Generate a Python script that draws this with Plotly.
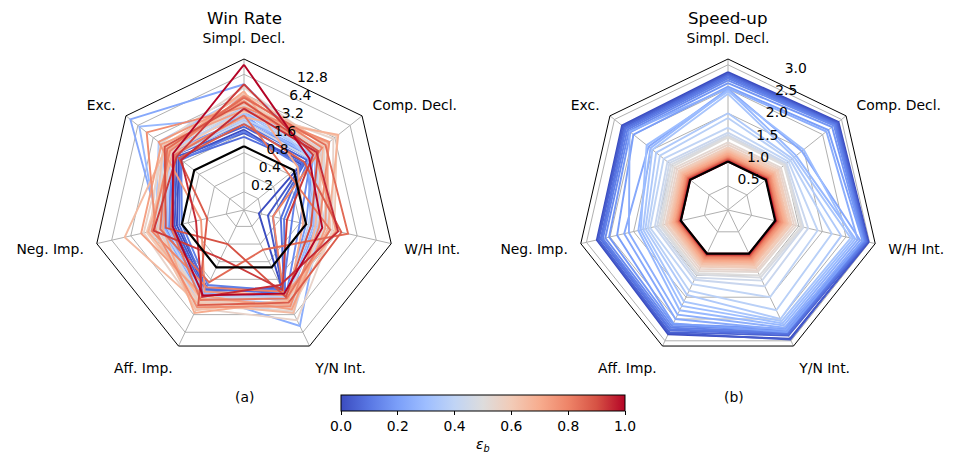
import math
import plotly.graph_objects as go
from plotly.colors import sample_colorscale

categories = ["Simpl. Decl.", "Comp. Decl.", "W/H Int.", "Y/N Int.", "Aff. Imp.", "Neg. Imp.", "Exc."]

eps_b = [0.00, 0.03, 0.05, 0.08, 0.10, 0.12, 0.15, 0.18, 0.20, 0.23,
         0.25, 0.28, 0.30, 0.33, 0.35, 0.38, 0.40, 0.43, 0.45, 0.48,
         0.50, 0.53, 0.55, 0.58, 0.60, 0.63, 0.65, 0.68, 0.70, 0.73,
         0.75, 0.78, 0.80, 0.83, 0.85, 0.88, 0.90, 0.93, 0.95, 1.00]

# Win rate per category (log scale chart)
win_simpl = [1.8, 1.6, 2.0, 1.4, 2.2, 1.7, 2.4, 2.6, 3.0, 9.0,
             3.4, 2.8, 4.0, 3.2, 6.0, 2.6, 3.6, 4.4, 2.4, 5.0,
             3.8, 8.0, 4.2, 5.5, 3.4, 6.4, 4.6, 2.8, 7.0, 3.6,
             5.0, 4.0, 6.0, 3.0, 5.6, 2.2, 4.8, 9.0, 3.8, 18.0]
win_comp = [1.4, 1.6, 1.8, 1.5, 2.0, 1.3, 2.2, 2.4, 1.9, 2.6,
            2.8, 2.2, 3.0, 2.4, 2.0, 3.2, 2.6, 3.4, 2.0, 3.6,
            2.8, 4.0, 6.0, 3.2, 7.0, 4.4, 3.8, 7.5, 1.2, 4.8,
            2.6, 5.0, 3.6, 0.8, 4.2, 1.6, 3.0, 2.4, 2.8, 2.0]
win_wh = [0.18, 0.25, 0.30, 0.40, 0.45, 0.60, 0.80, 1.0, 1.2, 1.4,
          1.6, 1.3, 1.8, 2.0, 1.5, 1.1, 1.7, 2.2, 1.6, 2.4,
          1.9, 2.0, 2.6, 1.8, 2.8, 2.4, 1.4, 2.2, 0.9, 2.0,
          3.0, 1.6, 0.3, 2.4, 4.6, 3.6, 1.2, 0.5, 3.2, 1.8]
win_yn = [2.4, 2.6, 2.2, 2.8, 3.0, 2.5, 3.2, 3.4, 3.0, 4.0,
          10.0, 3.6, 4.4, 3.8, 5.0, 3.2, 6.0, 4.0, 3.4, 4.6,
          3.8, 5.5, 8.0, 4.2, 5.0, 3.6, 6.0, 4.4, 3.8, 5.2,
          3.0, 4.6, 2.6, 3.4, 0.5, 4.0, 3.2, 2.4, 2.0, 2.8]
win_aff = [2.2, 2.4, 2.6, 2.3, 2.8, 2.0, 3.0, 3.2, 3.4, 3.6,
           3.0, 2.8, 3.8, 2.6, 4.0, 3.0, 3.4, 4.2, 3.2, 3.6,
           4.4, 4.6, 5.0, 3.8, 4.0, 5.4, 4.2, 3.4, 6.0, 3.0,
           2.6, 4.8, 2.2, 3.6, 1.8, 4.4, 0.4, 0.7, 3.2, 3.0]
win_neg = [1.2, 1.3, 1.4, 1.1, 1.5, 1.0, 1.6, 1.8, 2.0, 2.2,
           1.9, 2.4, 2.1, 1.7, 2.6, 2.0, 2.3, 2.8, 3.0, 2.2,
           2.6, 3.2, 4.0, 2.4, 3.6, 2.8, 8.0, 3.4, 2.0, 4.4,
           0.5, 2.6, 3.0, 1.5, 2.2, 0.4, 1.8, 2.8, 0.6, 1.4]
win_exc = [2.0, 2.2, 2.4, 1.9, 2.6, 1.8, 2.8, 3.0, 3.4, 18.0,
           4.0, 12.0, 3.6, 3.2, 5.0, 2.6, 3.0, 3.8, 2.4, 4.2,
           3.4, 4.6, 3.8, 3.0, 2.8, 4.0, 3.6, 2.6, 3.2, 4.4,
           5.0, 8.6, 3.0, 2.4, 3.4, 2.0, 3.8, 2.2, 1.8, 2.6]

# Speed-up per category (linear chart)
spd_simpl = [2.85, 2.82, 2.80, 2.78, 2.75, 2.72, 2.68, 2.62, 2.55, 2.50,
             2.52, 2.48, 2.45, 2.40, 2.00, 1.90, 1.70, 1.60, 1.55, 1.52,
             1.50, 1.40, 1.35, 1.30, 1.27, 1.24, 1.21, 1.18, 1.16, 1.13,
             1.11, 1.09, 1.07, 1.06, 1.05, 1.04, 1.03, 1.02, 1.01, 1.00]
spd_comp = [2.92, 2.90, 2.88, 2.86, 2.84, 2.82, 2.80, 2.75, 2.65, 1.95,
            2.60, 1.80, 2.00, 1.75, 1.70, 1.65, 1.60, 1.55, 1.52, 1.50,
            1.48, 1.40, 1.36, 1.32, 1.29, 1.25, 1.22, 1.19, 1.17, 1.14,
            1.12, 1.10, 1.08, 1.06, 1.05, 1.04, 1.03, 1.02, 1.01, 1.01]
spd_wh = [2.98, 2.96, 2.95, 2.93, 2.92, 2.90, 2.88, 2.86, 2.85, 2.80,
          2.75, 2.70, 2.65, 2.60, 2.40, 2.20, 1.90, 1.70, 1.60, 1.58,
          1.55, 1.45, 1.40, 1.35, 1.32, 1.28, 1.25, 1.22, 1.19, 1.16,
          1.14, 1.11, 1.09, 1.07, 1.06, 1.04, 1.03, 1.02, 1.02, 1.01]
spd_yn = [2.95, 2.97, 2.88, 2.85, 2.82, 2.80, 2.76, 2.72, 2.80, 2.75,
          2.70, 2.65, 2.60, 2.55, 2.50, 2.30, 2.00, 1.75, 1.62, 1.55,
          1.50, 1.42, 1.38, 1.33, 1.30, 1.26, 1.23, 1.20, 1.17, 1.14,
          1.12, 1.10, 1.08, 1.06, 1.05, 1.04, 1.03, 1.02, 1.01, 1.00]
spd_aff = [2.85, 2.82, 2.80, 2.76, 2.74, 2.70, 2.66, 2.62, 2.60, 2.50,
           2.40, 2.30, 2.20, 2.10, 1.95, 1.85, 1.70, 1.60, 1.55, 1.48,
           1.45, 1.40, 1.35, 1.30, 1.27, 1.24, 1.21, 1.18, 1.16, 1.13,
           1.11, 1.09, 1.07, 1.05, 1.04, 1.03, 1.02, 1.02, 1.01, 1.00]
spd_neg = [2.78, 2.76, 2.74, 2.70, 2.68, 2.65, 2.60, 2.52, 2.35, 2.20,
           2.10, 1.90, 1.85, 1.80, 1.75, 1.70, 1.65, 1.55, 1.50, 1.45,
           1.42, 1.38, 1.33, 1.30, 1.26, 1.23, 1.20, 1.17, 1.15, 1.12,
           1.10, 1.08, 1.07, 1.05, 1.04, 1.03, 1.02, 1.01, 1.01, 1.00]
spd_exc = [2.80, 2.78, 2.75, 2.72, 2.70, 2.66, 2.62, 2.58, 2.50, 2.10,
           2.60, 2.05, 2.15, 2.00, 1.90, 1.80, 1.70, 1.60, 1.55, 1.50,
           1.45, 1.40, 1.35, 1.30, 1.27, 1.24, 1.21, 1.18, 1.16, 1.13,
           1.11, 1.09, 1.07, 1.06, 1.05, 1.04, 1.03, 1.02, 1.01, 1.00]

baseline = [1.0] * len(categories)

win_ticks = [0.2, 0.4, 0.8, 1.6, 3.2, 6.4, 12.8]
spd_ticks = [0.5, 1.0, 1.5, 2.0, 2.5, 3.0]
cbar_ticks = [0.0, 0.2, 0.4, 0.6, 0.8, 1.0]

coolwarm = [[0.0, "#3b4cc0"], [0.1, "#5977e3"], [0.2, "#7b9ff9"], [0.3, "#9ebeff"],
            [0.4, "#c0d4f5"], [0.5, "#dddcdc"], [0.6, "#f2cbb7"], [0.7, "#f7ac8e"],
            [0.8, "#ee8468"], [0.9, "#d65244"], [1.0, "#b40426"]]

# the page body has an 8px default margin: size the figure to fit the window
# and express layout positions in window pixels minus that offset
OFF = 8
W, H = 955 - OFF, 457 - OFF
FONT = "DejaVu Sans"
GRID = "#b0b0b0"
FS = 13.9
R = 151
LABEL_THETA = 23  # r-label direction (degrees clockwise from top)


def px(x):
    return (x - OFF) / W


def py(y):
    return (H - (y - OFF)) / H


win_cols = [win_simpl, win_comp, win_wh, win_yn, win_aff, win_neg, win_exc]
spd_cols = [spd_simpl, spd_comp, spd_wh, spd_yn, spd_aff, spd_neg, spd_exc]
theta_closed = categories + [categories[0]]

fig = go.Figure()
colors = sample_colorscale(coolwarm, eps_b)

for subplot, cols in (("polar", win_cols), ("polar2", spd_cols)):
    for i, e in enumerate(eps_b):
        row = [c[i] for c in cols]
        fig.add_trace(go.Scatterpolar(
            r=row + [row[0]], theta=theta_closed, mode="lines",
            line=dict(color=colors[i], width=1.9),
            subplot=subplot, showlegend=False, hoverinfo="skip"))
    fig.add_trace(go.Scatterpolar(
        r=baseline + [baseline[0]], theta=theta_closed, mode="lines",
        line=dict(color="black", width=2.2),
        subplot=subplot, showlegend=False, hoverinfo="skip"))

# radial tick labels (overlay polar subplots with a plain numeric angular axis)
fig.add_trace(go.Scatterpolar(
    r=win_ticks, theta=[LABEL_THETA] * len(win_ticks), mode="text",
    text=[str(v) for v in win_ticks], textposition="top right",
    textfont=dict(family=FONT, size=FS, color="black"),
    subplot="polar3", showlegend=False, hoverinfo="skip"))
fig.add_trace(go.Scatterpolar(
    r=spd_ticks, theta=[LABEL_THETA] * len(spd_ticks), mode="text",
    text=[f"{v:.1f}" for v in spd_ticks], textposition="top right",
    textfont=dict(family=FONT, size=FS, color="black"),
    subplot="polar4", showlegend=False, hoverinfo="skip"))

# colorbar carrier
fig.add_trace(go.Scatter(
    x=[None], y=[None], mode="markers", showlegend=False, hoverinfo="skip",
    marker=dict(color=[0.5], cmin=0, cmax=1, colorscale=coolwarm, showscale=True,
                colorbar=dict(orientation="h", x=px(483), xanchor="center",
                              y=py(395), yanchor="top", ypad=0, xpad=0,
                              lenmode="pixels", len=284, thickness=16,
                              outlinecolor="black", outlinewidth=1,
                              tickvals=cbar_ticks, ticktext=[f"{v:.1f}" for v in cbar_ticks],
                              ticks="outside", ticklen=3.5, tickcolor="black",
                              tickfont=dict(family=FONT, size=FS, color="black")))))


def domain(cx, cy):
    return dict(x=[px(cx - R), px(cx + R)], y=[py(cy + R), py(cy - R)])


def angular():
    return dict(type="category", categoryarray=categories, direction="clockwise", rotation=90,
                showline=True, linecolor="black", linewidth=1, gridcolor=GRID, gridwidth=1,
                ticks="outside", ticklen=10, tickcolor="rgba(0,0,0,0)",
                tickfont=dict(family=FONT, size=FS, color="black"))


def radial(**kw):
    d = dict(showline=False, gridcolor=GRID, gridwidth=1, showticklabels=False, ticks="")
    d.update(kw)
    return d


def overlay(cx, **kw):
    return dict(domain=domain(cx, 210), bgcolor="rgba(0,0,0,0)",
                angularaxis=dict(visible=False, direction="clockwise", rotation=90),
                radialaxis=dict(visible=False, **kw))


win_range = [math.log10(0.105), math.log10(22)]
spd_range = [0, 3.12]


def note(text, x, y, size=FS):
    return dict(text=text, x=px(x), y=py(y), xref="paper", yref="paper",
                xanchor="center", yanchor="middle", showarrow=False,
                font=dict(family=FONT, size=size, color="black"))


fig.update_layout(
    width=W, height=H, margin=dict(l=0, r=0, t=0, b=0),
    paper_bgcolor="white", plot_bgcolor="white",
    font=dict(family=FONT, size=FS, color="black"),
    xaxis=dict(visible=False), yaxis=dict(visible=False),
    polar=dict(domain=domain(244, 210), gridshape="linear", bgcolor="white",
               angularaxis=angular(),
               radialaxis=radial(type="log", range=win_range, tickvals=win_ticks)),
    polar2=dict(domain=domain(728, 210), gridshape="linear", bgcolor="white",
                angularaxis=angular(),
                radialaxis=radial(range=spd_range, tickvals=spd_ticks)),
    polar3=overlay(244, type="log", range=win_range),
    polar4=overlay(728, range=spd_range),
    annotations=[
        note("Win Rate", 244, 18, 16.7),
        note("Speed-up", 728, 18, 16.7),
        note("(a)", 244, 397),
        note("(b)", 734, 397),
        note("<i>ε</i><sub><i>b</i></sub>", 483, 445),
    ],
)

fig.write_html("out.html")
